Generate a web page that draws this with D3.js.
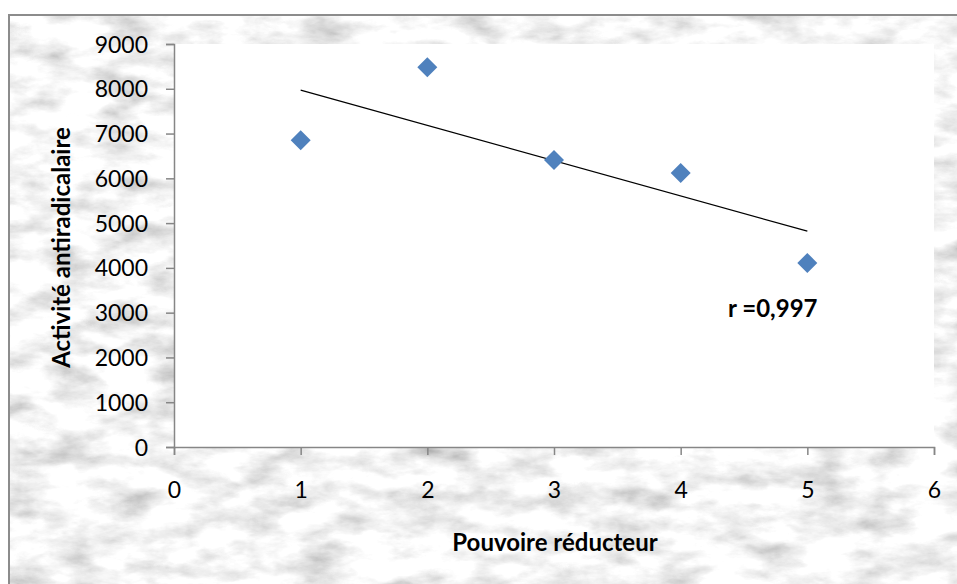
<!DOCTYPE html>
<html>
<head>
<meta charset="utf-8">
<script src="https://cdn.jsdelivr.net/npm/d3@7"></script>
<style>
  body { margin: 0; background: #fff; }
  svg { display: block; font-family: Lato, "Open Sans", sans-serif; }
</style>
</head>
<body>
<svg width="957" height="584"></svg>
<script>
// data
const pouvoir = [1, 2, 3, 4, 5];
const activite = [6850, 8480, 6410, 6120, 4110];
const trendX = [1, 5];
const trendY = [7970, 4820];
const xTicks = [0, 1, 2, 3, 4, 5, 6];
const yTicks = [0, 1000, 2000, 3000, 4000, 5000, 6000, 7000, 8000, 9000];

let svg = d3.select("svg");

// marble-ish backdrop
let defs = svg.append("defs");
let f = defs.append("filter").attr("id", "marble")
    .attr("x", 0).attr("y", 0).attr("width", "100%").attr("height", "100%");
f.append("feTurbulence").attr("type", "fractalNoise")
    .attr("baseFrequency", "0.02 0.045").attr("numOctaves", 5).attr("seed", 11);
f.append("feColorMatrix").attr("type", "matrix")
    .attr("values", "0.33 0.33 0.33 0 0  0.33 0.33 0.33 0 0  0.33 0.33 0.33 0 0  0 0 0 0 1");
f.append("feComponentTransfer").call(c => {
    ["feFuncR", "feFuncG", "feFuncB"].forEach(n =>
        c.append(n).attr("type", "linear").attr("slope", 1.6).attr("intercept", 0.12));
});

svg.append("rect").attr("x", 9).attr("y", 15).attr("width", 960).attr("height", 580)
    .attr("filter", "url(#marble)");
svg.append("rect").attr("x", 9).attr("y", 15).attr("width", 960).attr("height", 580)
    .attr("fill", "none").attr("stroke", "#8c8c8c").attr("stroke-width", 2);

let x = d3.scaleLinear().domain([0, 6]).range([174, 934]);
let y = d3.scaleLinear().domain([0, 9000]).range([447, 44]);

svg.append("rect").attr("x", x(0)).attr("y", y(9000))
    .attr("width", x(6) - x(0)).attr("height", y(0) - y(9000)).attr("fill", "#fff");

let yAxis = svg.append("g").attr("transform", `translate(${x(0)},0)`)
    .call(d3.axisLeft(y).tickValues(yTicks).tickSize(8).tickPadding(18).tickFormat(d3.format("d")));
let xAxis = svg.append("g").attr("transform", `translate(0,${y(0)})`)
    .call(d3.axisBottom(x).tickValues(xTicks).tickSize(8).tickPadding(27).tickFormat(d3.format("d")));

[xAxis, yAxis].forEach(a => {
    a.select(".domain").attr("stroke", "#868686").attr("stroke-width", 1.5);
    a.selectAll(".tick line").attr("stroke", "#868686").attr("stroke-width", 1.5);
    a.selectAll(".tick text").attr("fill", "#000").attr("font-size", 23)
        .attr("font-family", "Lato, 'Open Sans', sans-serif");
});
yAxis.selectAll(".tick text").attr("dy", "0.35em");
xAxis.selectAll(".tick text").attr("dy", "0.7em");

// trend line
svg.append("line")
    .attr("x1", x(trendX[0])).attr("y1", y(trendY[0]))
    .attr("x2", x(trendX[1])).attr("y2", y(trendY[1]))
    .attr("stroke", "#000").attr("stroke-width", 1.2);

// points
svg.append("g").selectAll("path")
    .data(pouvoir.map((p, i) => [p, activite[i]]))
    .enter().append("path")
    .attr("d", d3.symbol().type(d3.symbolSquare).size(200))
    .attr("transform", d => `translate(${x(d[0])},${y(d[1])}) rotate(45)`)
    .attr("fill", "#4f81bd");

svg.append("text").attr("x", 728).attr("y", 317)
    .attr("font-size", 24).attr("font-weight", "bold").text("r =0,997");

svg.append("text")
    .attr("transform", `translate(70,${(y(0) + y(9000)) / 2 + 2}) rotate(-90)`)
    .attr("text-anchor", "middle").attr("font-size", 24).attr("font-weight", "bold")
    .text("Activité antiradicalaire");

svg.append("text").attr("x", 555).attr("y", 551)
    .attr("text-anchor", "middle").attr("font-size", 24).attr("font-weight", "bold")
    .text("Pouvoire réducteur");
</script>
</body>
</html>
